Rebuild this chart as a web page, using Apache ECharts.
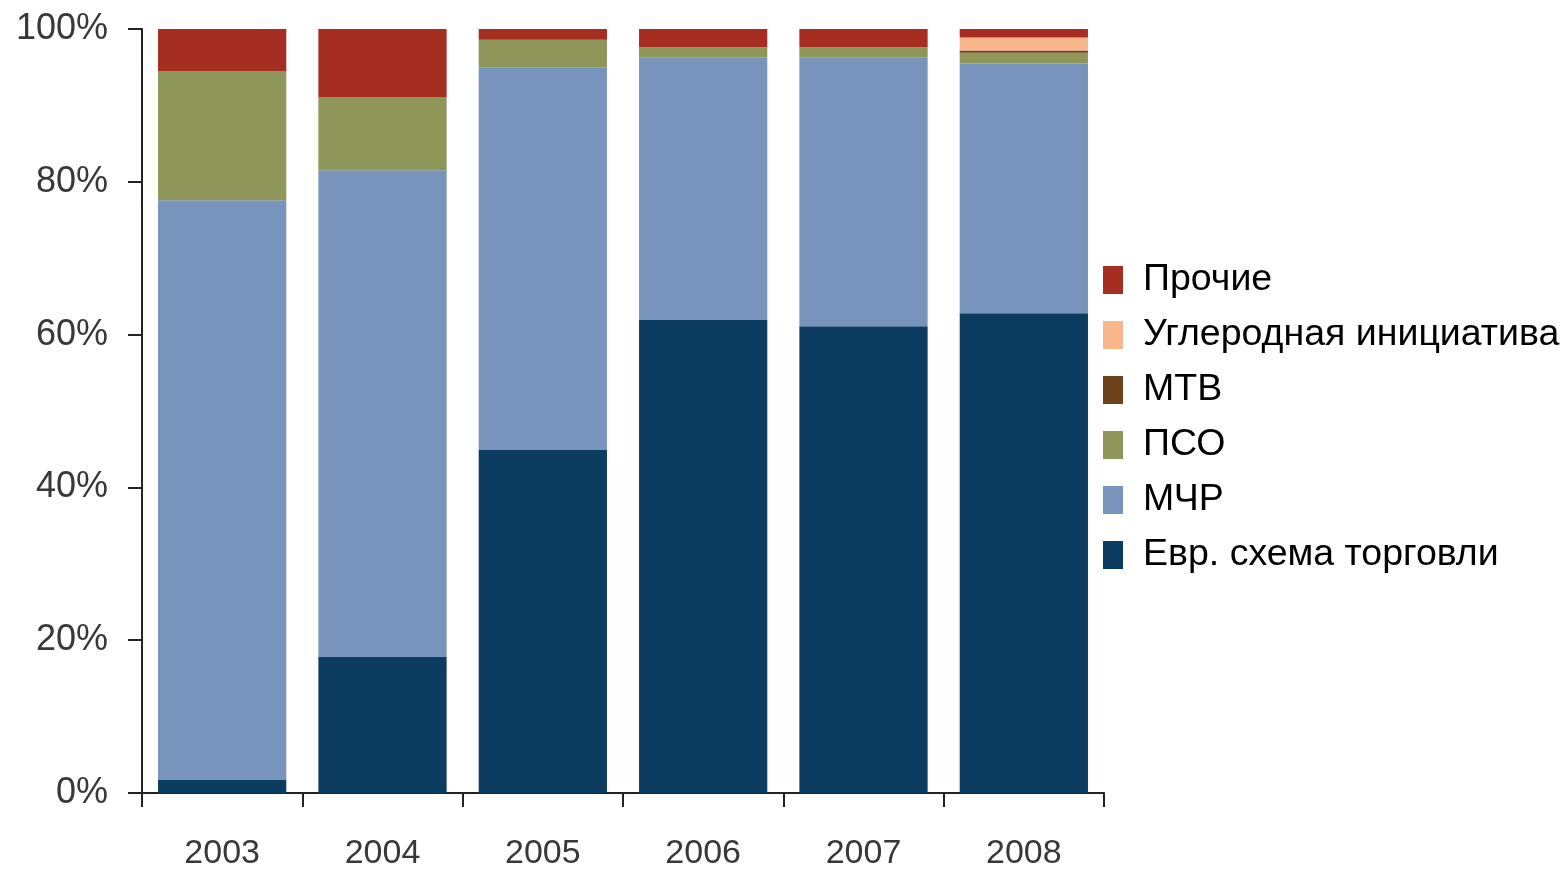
<!DOCTYPE html>
<html><head><meta charset="utf-8">
<script src="https://cdn.jsdelivr.net/npm/echarts@6/dist/echarts.min.js"></script>
<style>html,body{margin:0;padding:0;background:#fff;}#c{width:1566px;height:869px;}</style>
</head><body><div id="c"></div>
<script>
const categories = ['2003','2004','2005','2006','2007','2008'];
const evr   = [1.7, 17.8, 44.9, 61.9, 61.1, 62.8];
const mchr  = [75.9, 63.7, 50.1, 34.4, 35.2, 32.7];
const pso   = [16.9, 9.6, 3.6, 1.3, 1.3, 1.4];
const mtv   = [0, 0, 0, 0, 0, 0.3];
const ugl   = [0, 0, 0, 0, 0, 1.7];
const proch = [5.5, 8.9, 1.4, 2.4, 2.4, 1.1];
const names = ['Евр. схема торговли','МЧР','ПСО','МТВ','Углеродная инициатива','Прочие'];
const colors = ['#0d3c61','#7894bd','#8e9659','#6b4219','#f8b68a','#a52d22'];
const values = [evr, mchr, pso, mtv, ugl, proch];

const chart = echarts.init(document.getElementById('c'));
chart.setOption({
  animation:false,
  grid:{left:142,right:462,top:29,bottom:76,containLabel:false,outerBoundsMode:'none'},
  legend:{
    orient:'vertical', left:1098, top:256,
    data:names.slice().reverse(),
    itemWidth:20, itemHeight:28, itemGap:17,
    icon:'rect',
    textStyle:{fontFamily:'Liberation Sans, Arial', fontSize:37.5, color:'#000', padding:[0,0,0,15]}
  },
  xAxis:{
    type:'category', data:categories, boundaryGap:true,
    axisLine:{lineStyle:{color:'#222',width:2}},
    axisTick:{show:true,length:14,lineStyle:{color:'#222',width:2}},
    axisLabel:{fontFamily:'Liberation Sans, Arial',fontSize:34,color:'#383838',margin:44}
  },
  yAxis:{
    type:'value', min:0, max:100, interval:20,
    axisLine:{show:true,lineStyle:{color:'#222',width:2}},
    axisTick:{show:true,length:14,lineStyle:{color:'#222',width:2}},
    splitLine:{show:false},
    axisLabel:{formatter:'{value}%',fontFamily:'Liberation Sans, Arial',fontSize:36,color:'#383838',margin:34}
  },
  series: names.map((n,i)=>({
    name:n, type:'bar', stack:'total', data:values[i],
    barCategoryGap:'20%', itemStyle:{color:colors[i]}
  }))
});
</script></body></html>
